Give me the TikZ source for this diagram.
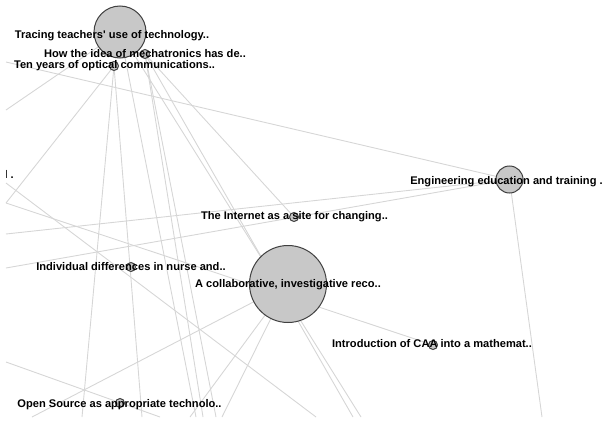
\documentclass[tikz,border=0pt]{standalone}
\usepackage{fontspec}
\setmainfont{Liberation Sans}
\usetikzlibrary{backgrounds}
\definecolor{edgecol}{RGB}{214,214,214}
\definecolor{vfill}{RGB}{200,200,200}
\definecolor{vborder}{RGB}{64,64,64}
\begin{document}
\begin{tikzpicture}[x=1pt,y=-1pt,
  vtx/.style={circle, draw=vborder, fill=vfill, line width=1pt, inner sep=0pt},
  small/.style={vtx, minimum size=9pt},
  lbl/.style={font=\bfseries\fontsize{11.1}{12}\selectfont, inner sep=0pt, anchor=base},
  edge/.style={draw=edgecol, line width=0.9pt}]
\useasboundingbox (0,0) rectangle (604,420);
% vertices
\node[vtx, minimum size=52pt] (trc) at (120,32) {};
\node[small] (mec) at (145,54) {};
\node[small] (ten) at (114,66) {};
\node[vtx, minimum size=27pt] (eng) at (509.5,179.5) {};
\node[small] (int) at (294,217) {};
\node[small] (ind) at (131,267) {};
\node[vtx, minimum size=77pt] (col) at (288,284) {};
\node[small] (caa) at (433,345) {};
\node[small] (ops) at (120,403) {};
% free ends
\coordinate (l62) at (6,62);
\coordinate (l110) at (6,110);
\coordinate (l183) at (6,183);
\coordinate (l203) at (6,203);
\coordinate (l234) at (6,234);
\coordinate (l268) at (6,268);
\coordinate (l362) at (6,362);
\coordinate (b32) at (32,417);
\coordinate (b82) at (82,417);
\coordinate (b142) at (142,417);
\coordinate (b160) at (160,417);
\coordinate (b190) at (190,417);
\coordinate (b196) at (196,417);
\coordinate (b203) at (203,417);
\coordinate (b216) at (216,417);
\coordinate (b222) at (222,417);
\coordinate (b316) at (316,417);
\coordinate (b353) at (353,417);
\coordinate (b361) at (361,417);
\coordinate (b542) at (542,417);
% edges
\begin{scope}[on background layer]
\draw[edge] (l62) -- (eng.center);
\draw[edge] (trc.center) -- (l110);
\draw[edge] (ten.center) -- (l203);
\draw[edge] (ten.center) -- (b82);
\draw[edge] (ten.center) -- (b142);
\draw[edge] (trc.center) -- (b196);
\draw[edge] (mec.center) -- (b203);
\draw[edge] (mec.center) -- (b216);
\draw[edge] (mec.center) -- (b353);
\draw[edge] (trc.center) -- (b361);
\draw[edge] (mec.center) -- (int.center);
\draw[edge] (l183) -- (b316);
\draw[edge] (l234) -- (eng.center);
\draw[edge] (l268) -- (eng.center);
\draw[edge] (l203) -- (caa.center);
\draw[edge] (col.center) -- (b32);
\draw[edge] (col.center) -- (b190);
\draw[edge] (col.center) -- (b222);
\draw[edge] (l362) -- (b160);
\draw[edge] (eng.center) -- (b542);
\end{scope}
% labels
\node[lbl] (trcL) at (112,38.5) {Tracing teachers\textquotesingle{} use of technology..};
\node[lbl] (mecL) at (145,57.5) {How the idea of mechatronics has de..};
\node[lbl] (tenL) at (114.5,68.5) {Ten years of optical communications..};
\node[lbl] (engL) at (506.5,184) {Engineering education and training .};
\node[lbl] (intL) at (294.5,219) {The Internet as a site for changing..};
\node[lbl] (indL) at (131,270) {Individual differences in nurse and..};
\node[lbl] (colL) at (288,287.5) {A collaborative, investigative reco..};
\node[lbl] (caaL) at (432,347.5) {Introduction of CAA into a mathemat..};
\node[lbl] (opsL) at (119.5,407.5) {Open Source as appropriate technolo..};
\begin{scope}
\clip (6.5,0) rectangle (604,420);
\node[lbl, anchor=base east] (lftL) at (14,178) {al .};
\end{scope}
\end{tikzpicture}
\end{document}
